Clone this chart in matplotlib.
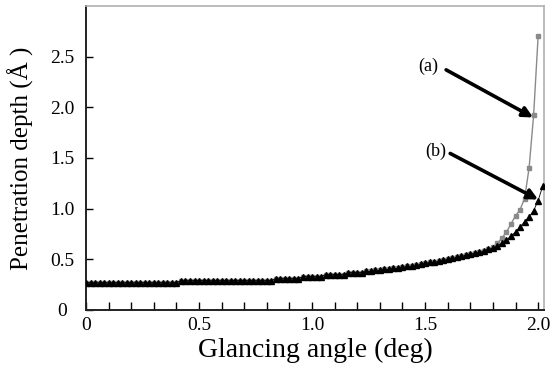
import numpy as np
import matplotlib
matplotlib.use("Agg")
import matplotlib.pyplot as plt
from matplotlib.ticker import MultipleLocator

plt.rcParams['font.family'] = ['Liberation Serif', 'DejaVu Serif']

# glancing angle sampling (deg)
angle_a = np.round(np.arange(0, 2.0001, 0.02), 2)
angle_b = np.round(np.arange(0, 2.0201, 0.02), 2)

# common low-angle part, 0.00 .. 1.78 deg
flat = ([0.27] * 21 + [0.29] * 21 + [0.31] * 6 + [0.33] * 5 + [0.35] * 5
        + [0.37] * 4 + [0.38, 0.38, 0.39, 0.39]
        + [0.40, 0.40, 0.41, 0.41, 0.42, 0.43, 0.43, 0.44, 0.45, 0.46, 0.47, 0.47,
           0.48, 0.49, 0.50, 0.51, 0.52, 0.53, 0.54, 0.55, 0.56, 0.57, 0.58, 0.60])

# (a) 1.80 .. 2.00
tail_a = [0.62, 0.66, 0.71, 0.77, 0.85, 0.93, 0.99, 1.10, 1.40, 1.92, 2.70]
# (b) 1.80 .. 2.02
tail_b = [0.61, 0.63, 0.66, 0.69, 0.73, 0.77, 0.82, 0.87, 0.92, 0.98, 1.08, 1.22]

depth_a = flat + tail_a
depth_b = flat + tail_b

fig = plt.figure(figsize=(5.52, 3.74), dpi=100)
ax = fig.add_axes([86 / 552, 64 / 374, 458 / 552, 304 / 374])

ax.plot(angle_a, depth_a, color="#8a8a8a", lw=1.0, marker="s", ms=2.6,
        mfc="#8a8a8a", mec="#8a8a8a", zorder=2)
ax.plot(angle_b, depth_b, color="black", lw=0.6, marker="^", ms=4.0,
        mfc="black", mec="black", zorder=3)

ax.set_xlim(0, 2.026)
ax.set_ylim(0, 3.0)
ax.set_xticks([0, 0.5, 1.0, 1.5, 2.0])
ax.set_xticklabels(["0", "0.5", "1.0", "1.5", "2.0"])
ax.xaxis.set_minor_locator(MultipleLocator(0.1))
ax.set_yticks([0, 0.5, 1.0, 1.5, 2.0, 2.5])
ax.set_yticklabels(["0", "0.5", "1.0", "1.5", "2.0", "2.5"])

ax.tick_params(axis="x", which="both", direction="in", length=6, width=1,
               labelsize=14, pad=5, top=False)
ax.tick_params(axis="y", which="both", direction="in", length=5, width=1,
               labelsize=14, pad=17, right=False)
for lab in ax.get_yticklabels():
    lab.set_horizontalalignment("center")

for s in ["left", "bottom"]:
    ax.spines[s].set_linewidth(1.4)
    ax.spines[s].set_color("#222222")
for s in ["top", "right"]:
    ax.spines[s].set_linewidth(1.2)
    ax.spines[s].set_color("#b0b0b0")

ax.set_xlabel("Glancing angle (deg)", fontsize=20, labelpad=3)
ax.set_ylabel("Penetration depth (Å )", fontsize=18, labelpad=12)

arrow = dict(arrowstyle="-|>,head_length=0.6,head_width=0.3", lw=2.6, color="black",
             shrinkA=0, shrinkB=0)
ax.annotate("", xy=(1.978, 1.90), xytext=(1.593, 2.37), arrowprops=arrow)
ax.text(1.513, 2.40, "(a)", fontsize=13, ha="center", va="center")
ax.annotate("", xy=(2.0, 1.09), xytext=(1.611, 1.545), arrowprops=arrow)
ax.text(1.549, 1.57, "(b)", fontsize=13, ha="center", va="center")

fig.savefig("out.png", dpi=100)
